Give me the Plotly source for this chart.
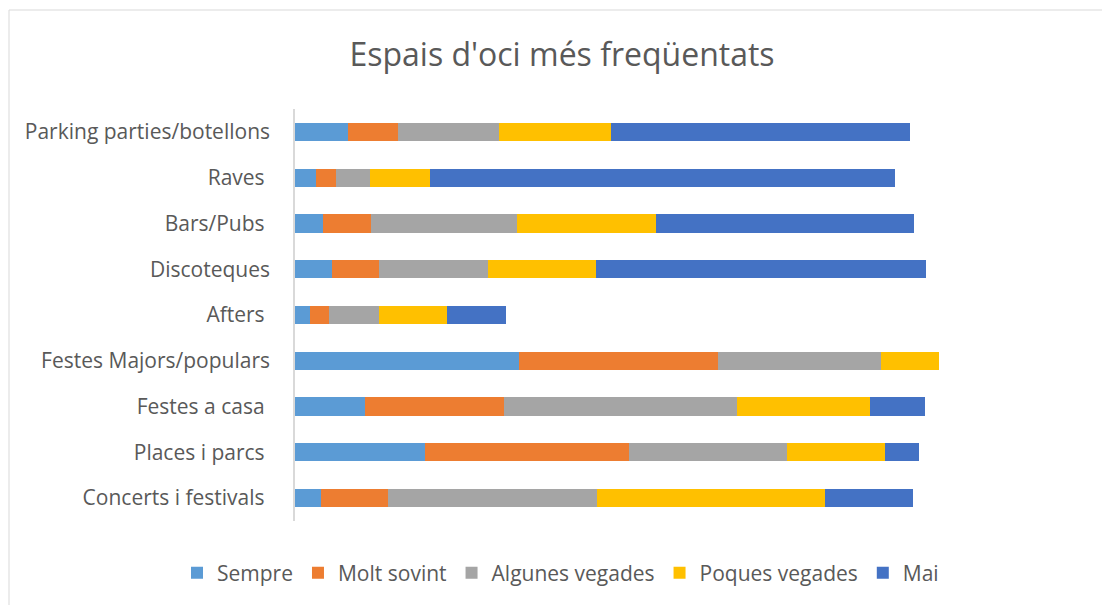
import plotly.graph_objects as go

categories = ["Parking parties/botellons", "Raves", "Bars/Pubs", "Discoteques", "Afters",
              "Festes Majors/populars", "Festes a casa", "Places i parcs", "Concerts i festivals"]
sempre = [53, 21, 28, 37, 15, 224, 70, 130, 26]
molt_sovint = [50, 20, 48, 47, 19, 199, 139, 204, 67]
algunes = [101, 34, 146, 109, 50, 163, 233, 158, 209]
poques = [112, 60, 139, 108, 68, 58, 133, 98, 228]
mai = [299, 465, 258, 330, 59, 0, 55, 34, 88]

series = [("Sempre", sempre, "#5B9BD5"), ("Molt sovint", molt_sovint, "#ED7D31"),
          ("Algunes vegades", algunes, "#A5A5A5"), ("Poques vegades", poques, "#FFC000"),
          ("Mai", mai, "#4472C4")]

# labels that carry a trailing space in the original
padded = {"Raves", "Bars/Pubs", "Afters", "Festes a casa", "Places i parcs", "Concerts i festivals"}
ticktext = [c + "\u00a0" if c in padded else c for c in categories]

fig = go.Figure()
for name, vals, col in series:
    fig.add_trace(go.Bar(y=categories, x=vals, name=name, orientation="h",
                         marker=dict(color=col, line=dict(width=0))))

font_fam = "'Open Sans', sans-serif"
fig.update_layout(
    barmode="stack", bargap=0.6,
    width=1102, height=605,
    paper_bgcolor="white", plot_bgcolor="white",
    margin=dict(l=295, r=107, t=109, b=84),
    title=dict(text="Espais d'oci més freqüentats", x=0.51, xanchor="center", xref="container",
               y=1 - 55 / 605, yanchor="middle", yref="container",
               font=dict(family=font_fam, size=32, color="#595959")),
    font=dict(family=font_fam, size=21, color="#595959"),
    xaxis=dict(range=[0, 700], showgrid=False, showticklabels=False, zeroline=False, showline=False),
    yaxis=dict(autorange="reversed", showline=True, linecolor="#d9d9d9", linewidth=1.5,
               ticks="", ticklabelstandoff=19, tickmode="array", tickvals=categories,
               ticktext=ticktext, tickfont=dict(size=21, color="#595959")),
    legend=dict(orientation="h", xref="paper", yref="paper", x=-118 / 700, xanchor="left",
                y=-52 / 412, yanchor="middle", font=dict(size=21, color="#595959"),
                itemwidth=30, traceorder="normal"),
    showlegend=True,
    shapes=[dict(type="rect", xref="paper", yref="paper",
                 x0=-286 / 700, x1=1.2, y0=-100 / 412, y1=1 + 99 / 412,
                 line=dict(color="#d9d9d9", width=1), fillcolor="rgba(0,0,0,0)", layer="below")],
)

fig.write_html("out.html", config={"displayModeBar": False},
               post_script="document.body.style.margin='0';")
